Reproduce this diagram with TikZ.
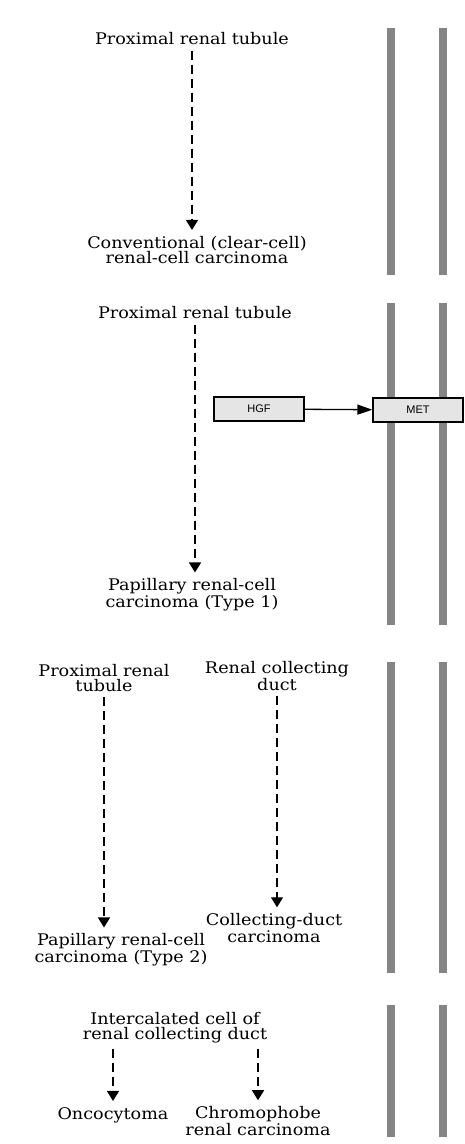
\documentclass[tikz,border=0pt]{standalone}
\usepackage{fontspec}
\setmainfont[FakeStretch=1.1]{DejaVu Serif}
\newfontfamily\boxfont{Liberation Sans}
\usetikzlibrary{arrows.meta,positioning}

\begin{document}
\begin{tikzpicture}[x=1pt,y=-1pt,inner sep=0.4mm,
  txt/.style={align=center,font=\fontsize{16}{15}\selectfont},
  gene/.style={draw=black,line width=1.3pt,fill=black!10,minimum width=90pt,minimum height=24pt,font=\boxfont\fontsize{11}{12}\selectfont},
  membrane/.style={line width=8pt,draw=black!48},
  dasharrow/.style={line width=1.3pt,dash pattern=on 9pt off 5pt,-{Triangle[length=10pt,width=12pt]},shorten <=4pt,shorten >=5pt},
  actarrow/.style={line width=1.3pt,-{Triangle[length=15pt,width=10pt]}}]
\useasboundingbox (0,0) rectangle (465,1144);
\foreach \yt/\yb in {28/275,303/625,662/973,1005/1137}
  \foreach \xm in {391,443}
    \draw[membrane] (\xm,\yt) -- (\xm,\yb);

\node[txt] (PRT1) at (192,39) {Proximal renal tubule};
\node[txt] (CCRCC) at (197,250) {Conventional (clear-cell)\\renal-cell carcinoma};
\draw[dasharrow] (PRT1.south) -- (PRT1.south |- CCRCC.north);

\node[txt] (PRT2) at (195,313) {Proximal renal tubule};
\node[txt] (PRCC1) at (192,595) {Papillary renal-cell\\carcinoma (Type 1)};
\draw[dasharrow] (PRT2.south) -- (PRT2.south |- PRCC1.north);
\node[gene] (HGF) at (259,409) {HGF};
\node[gene] (MET) at (418,410) {MET};
\draw[actarrow] (HGF) -- (MET);

\node[txt] (PRT3) at (104,678) {Proximal renal\\tubule};
\node[txt] (RCD) at (277,676) {Renal collecting\\duct};
\node[txt] (CDC) at (274,928) {Collecting-duct\\carcinoma};
\node[txt] (PRCC2) at (121,950) {Papillary renal-cell\\carcinoma (Type 2)};
\draw[dasharrow] (PRT3.south) -- (PRT3.south |- PRCC2.north);
\draw[dasharrow] (RCD.south) -- (RCD.south |- CDC.north);

\node[txt] (ICD) at (175,1028) {Intercalated cell of\\renal collecting duct};
\node[txt] (ONC) at (113,1115) {Oncocytoma};
\node[txt] (CHR) at (258,1121) {Chromophobe\\renal carcinoma};
\draw[dasharrow] (ICD.south -| ONC) -- (ONC.north);
\draw[dasharrow] (ICD.south -| CHR) -- (CHR.north);
\end{tikzpicture}
\end{document}
